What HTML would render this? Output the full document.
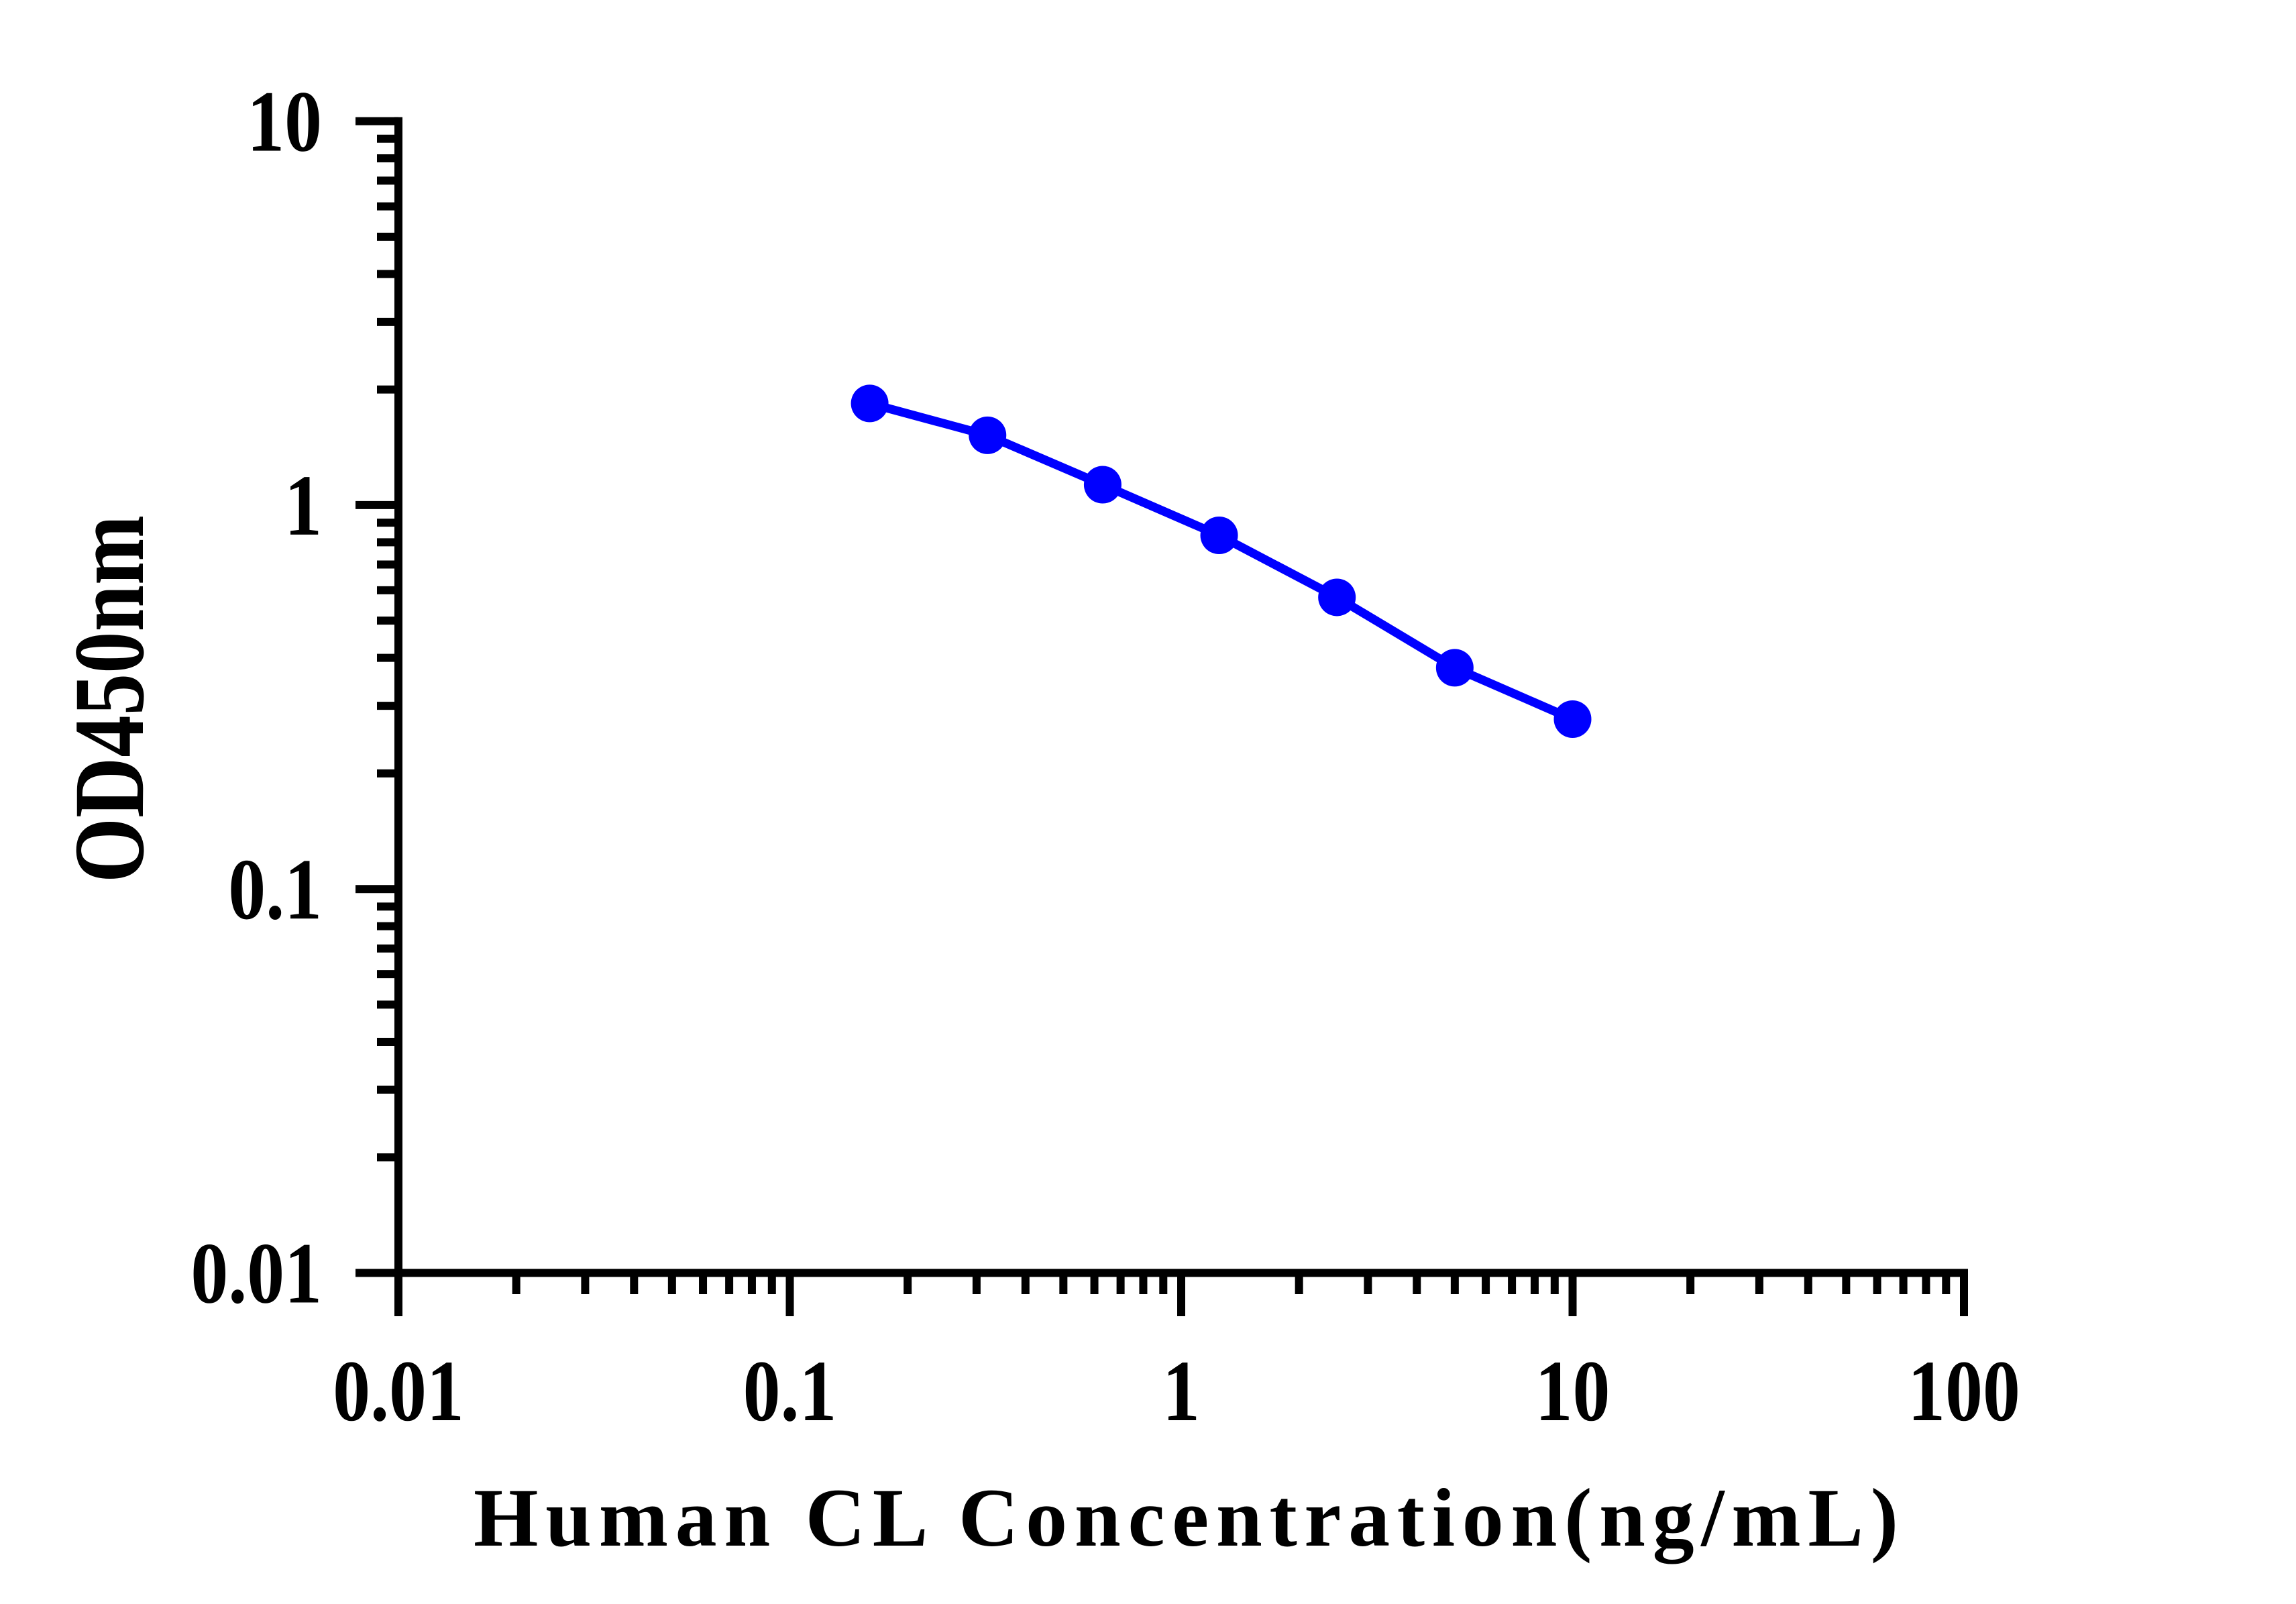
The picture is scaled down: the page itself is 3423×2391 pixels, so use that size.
<!DOCTYPE html>
<html><head><meta charset="utf-8"><style>html,body{margin:0;padding:0;background:#fff}svg{display:block}</style></head>
<body>
<svg id="chart" width="3423" height="2391" viewBox="0 0 3423 2391" xmlns="http://www.w3.org/2000/svg">
<rect x="0" y="0" width="3423" height="2391" fill="#fff"/>
<g id="axes"></g>
<g id="series"></g>
<text x="706" y="2304" font-family="Liberation Serif, serif" font-weight="bold" font-size="124" textLength="2124" lengthAdjust="spacing">Human CL Concentration(ng/mL)</text>
<text transform="translate(213,1316) rotate(-90)" font-family="Liberation Serif, serif" font-weight="bold" font-size="150" textLength="548" lengthAdjust="spacingAndGlyphs">OD450nm</text>
</svg>
<script>
const concentrations = [0.16, 0.32, 0.63, 1.25, 2.5, 5, 10];
const odValues = [1.84, 1.52, 1.13, 0.834, 0.575, 0.377, 0.277];
const xTickValues = [0.01, 0.1, 1, 10, 100];
const xTickLabels = ["0.01", "0.1", "1", "10", "100"];
const yTickValues = [0.01, 0.1, 1, 10];
const yTickLabels = ["0.01", "0.1", "1", "10"];

const NS = "http://www.w3.org/2000/svg";
const X0 = 594, XDEC = 583.5, Y0 = 1897.5, YDEC = 572.3;
function xs(v){ return X0 + (Math.log10(v) + 2) * XDEC; }
function ys(v){ return Y0 - (Math.log10(v) + 2) * YDEC; }
function mk(tag, attrs, parent){ const e = document.createElementNS(NS, tag); for (const k in attrs) e.setAttribute(k, attrs[k]); parent.appendChild(e); return e; }
function labelWidth(s, fs){ let w = 0; for (const c of s) w += (c === '.' ? 0.25 : 0.5); return w * fs * 0.86; }

const axes = document.getElementById('axes');
const FS = 130;
// axis lines
let yl = mk('line', {x1: X0, y1: ys(10) - 6, x2: X0, y2: Y0 + 6, stroke: '#000', 'stroke-width': 12}, axes);


let xl = mk('line', {x1: X0 - 6, y1: Y0, x2: xs(100) + 6, y2: Y0, stroke: '#000', 'stroke-width': 12}, axes);



// x ticks
for (let d = -2; d <= 2; d++) {
  for (let m = 1; m <= 9; m++) {
    if (d === 2 && m > 1) break;
    const v = m * Math.pow(10, d);
    const x = xs(v);
    const major = m === 1;
    const t = mk('line', {x1: x, y1: Y0, x2: x, y2: major ? 1962 : 1929, stroke: '#000', 'stroke-width': 12}, axes);
    
    
  }
}
xTickValues.forEach((v, i) => {
  const s = xTickLabels[i];
  const t = mk('text', {x: xs(v), y: 2117, 'text-anchor': 'middle', 'font-family': 'Liberation Serif, serif', 'font-weight': 'bold', 'font-size': FS, textLength: labelWidth(s, FS), lengthAdjust: 'spacingAndGlyphs'}, axes);
  t.textContent = s;
  
  
});
// y ticks
for (let d = -2; d <= 1; d++) {
  for (let m = 1; m <= 9; m++) {
    if (d === 1 && m > 1) break;
    const v = m * Math.pow(10, d);
    const y = ys(v);
    const major = m === 1;
    const t = mk('line', {x1: major ? 530 : 562, y1: y, x2: X0, y2: y, stroke: '#000', 'stroke-width': 12}, axes);
    
    
  }
}
yTickValues.forEach((v, i) => {
  const s = yTickLabels[i];
  const t = mk('text', {x: 480, y: ys(v) + 44, 'text-anchor': 'end', 'font-family': 'Liberation Serif, serif', 'font-weight': 'bold', 'font-size': FS, textLength: labelWidth(s, FS), lengthAdjust: 'spacingAndGlyphs'}, axes);
  t.textContent = s;
  
  
});

// series
const ser = document.getElementById('series');
const pts = concentrations.map((c, i) => xs(c).toFixed(1) + ',' + ys(odValues[i]).toFixed(1)).join(' ');
const pl = mk('polyline', {points: pts, fill: 'none', stroke: '#0000ff', 'stroke-width': 13, 'stroke-linejoin': 'round'}, ser);


concentrations.forEach((c, i) => {
  const p = mk('circle', {cx: xs(c), cy: ys(odValues[i]), r: 28, fill: '#0000ff'}, ser);
  
  
});
</script>
</body></html>
